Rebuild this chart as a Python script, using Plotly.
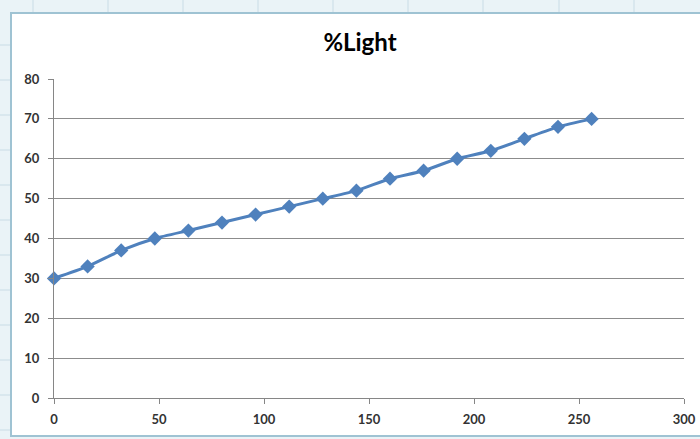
import plotly.graph_objects as go

x_vals = [0, 16, 32, 48, 64, 80, 96, 112, 128, 144, 160, 176, 192, 208, 224, 240, 256]
light_pct = [30, 33, 37, 40, 42, 44, 46, 48, 50, 52, 55, 57, 60, 62, 65, 68, 70]
title_text = "%Light"

L, R, T, B = 54, 16, 79, 41
W, H = 700, 439
pw, ph = W - L - R, H - T - B

def px(x):
    return (x - L) / pw

def py(y):
    return (H - B - y) / ph

fig = go.Figure()
fig.add_trace(go.Scatter(
    x=x_vals, y=light_pct, mode="lines+markers",
    line=dict(color="#4F81BD", width=3, shape="spline", smoothing=0.6),
    marker=dict(symbol="diamond", size=11, color="#4F81BD"),
    showlegend=False, cliponaxis=False,
))

shapes = []
for gx in [33, 108, 183, 258, 333, 408, 483, 559, 634]:
    shapes.append(dict(type="line", xref="paper", yref="paper", x0=px(gx), x1=px(gx), y0=py(0), y1=py(14),
                       line=dict(color="#C9DCE6", width=1), layer="below"))
for gy in [45, 80, 115, 150, 185, 220, 255, 290, 325, 360, 395, 430]:
    shapes.append(dict(type="line", xref="paper", yref="paper", x0=px(0), x1=px(11), y0=py(gy), y1=py(gy),
                       line=dict(color="#C9DCE6", width=1), layer="below"))
# chart frame
shapes.append(dict(type="rect", xref="paper", yref="paper", x0=px(11), x1=px(712), y0=py(13), y1=py(436),
                   fillcolor="white", line=dict(color="#9FC3D3", width=2), layer="below"))

tick_font = dict(family="Lato", size=13, color="#333333", weight="bold")

fig.update_layout(
    width=W, height=H,
    margin=dict(l=L, r=R, t=T, b=B),
    paper_bgcolor="#EAF3F7", plot_bgcolor="white",
    shapes=shapes,
    title=dict(text=title_text, x=360 / W, xanchor="center", y=1 - 43 / H, yanchor="middle",
               font=dict(family="Lato", size=24, color="black", weight="bold")),
    font=dict(family="Lato", size=13, color="#333333"),
    xaxis=dict(range=[0, 300], dtick=50, showgrid=False, zeroline=False, automargin=False,
               showline=True, linecolor="#868686", linewidth=1,
               ticks="outside", ticklen=5, tickcolor="#868686", tickfont=tick_font,
               ticklabelstandoff=4),
    yaxis=dict(range=[0, 80], dtick=10, showgrid=True, gridcolor="#8C8C8C", gridwidth=1, zeroline=False,
               automargin=False, showline=True, linecolor="#868686", linewidth=1,
               ticks="outside", ticklen=5, tickcolor="#868686", tickfont=tick_font,
               ticklabelstandoff=6),
)

fig.write_html("out.html", config={"displayModeBar": False},
               post_script="document.body.style.margin='0';document.body.style.overflow='hidden';")
